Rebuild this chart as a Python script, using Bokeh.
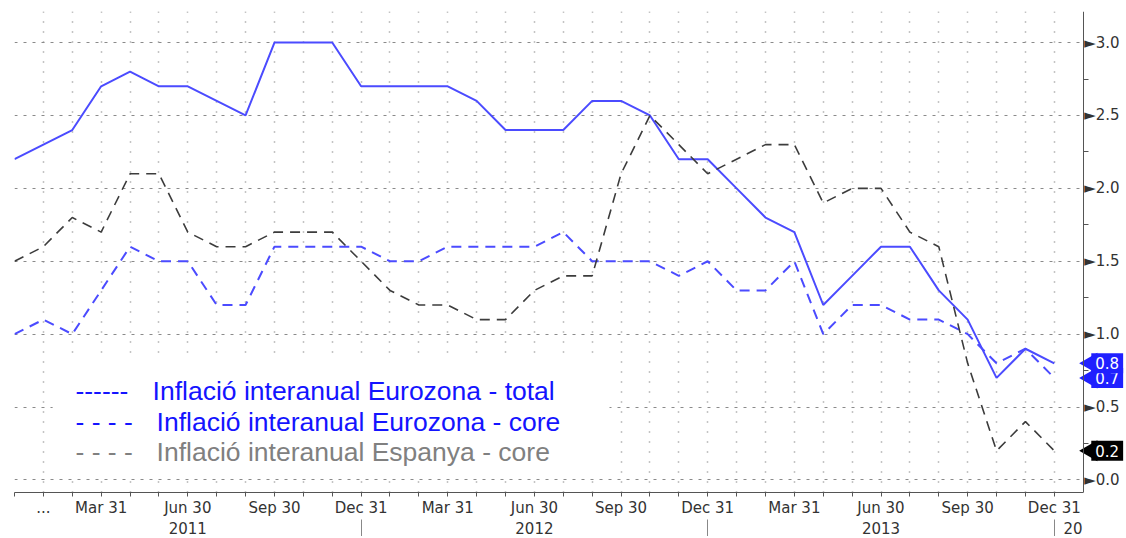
import numpy as np
from bokeh.plotting import figure
from bokeh.models import Range1d, FixedTicker, LinearAxis, Label, BoxAnnotation
from bokeh.embed import file_html
from bokeh.resources import INLINE

# Monthly values, Dec 2010 .. Dec 2013 (month-end)
total = [2.2, 2.3, 2.4, 2.7, 2.8, 2.7, 2.7, 2.6, 2.5, 3.0, 3.0, 3.0,
         2.7, 2.7, 2.7, 2.7, 2.6, 2.4, 2.4, 2.4, 2.6, 2.6, 2.5, 2.2,
         2.2, 2.0, 1.8, 1.7, 1.2, 1.4, 1.6, 1.6, 1.3, 1.1, 0.7, 0.9, 0.8]
core = [1.0, 1.1, 1.0, 1.3, 1.6, 1.5, 1.5, 1.2, 1.2, 1.6, 1.6, 1.6,
        1.6, 1.5, 1.5, 1.6, 1.6, 1.6, 1.6, 1.7, 1.5, 1.5, 1.5, 1.4,
        1.5, 1.3, 1.3, 1.5, 1.0, 1.2, 1.2, 1.1, 1.1, 1.0, 0.8, 0.9, 0.7]
spain = [1.5, 1.6, 1.8, 1.7, 2.1, 2.1, 1.7, 1.6, 1.6, 1.7, 1.7, 1.7,
         1.5, 1.3, 1.2, 1.2, 1.1, 1.1, 1.3, 1.4, 1.4, 2.1, 2.5, 2.3,
         2.1, 2.2, 2.3, 2.3, 1.9, 2.0, 2.0, 1.7, 1.6, 0.8, 0.2, 0.4, 0.2]
month_idx = list(range(len(total)))
last = month_idx[-1] + 1          # right edge of the time axis (one month after Dec 2013)

quarter_names = {3: "Mar 31", 6: "Jun 30", 9: "Sep 30", 0: "Dec 31"}
month_labels = {i: "" for i in month_idx}
month_labels[1] = "..."
for i in month_idx:
    if i > 0 and i % 3 == 0:
        month_labels[i] = quarter_names[i % 12]

year_labels = ["2011", "2012", "2013", "20"]
year_pos = [6, 18, 30, 36.65]
year_breaks = [12, 24, 36]

y_ticks = [0.0, 0.5, 1.0, 1.5, 2.0, 2.5, 3.0]
y_minor = [0.25, 0.75, 1.25, 1.75, 2.25, 2.75]

legend_marks = ["------", "- - - -", "- - - -"]
legend_texts = ["Inflació interanual Eurozona - total",
                "Inflació interanual Eurozona - core",
                "Inflació interanual Espanya - core"]
legend_colors = ["#1414ff", "#1414ff", "#808080"]

BLUE = "#4b4bff"
GRAY = "#3c3c3c"
AXIS = "#555555"
TAG_BLUE = "#2020ff"

p = figure(width=1124, height=536, x_range=Range1d(0, 38.43), y_range=Range1d(-0.086, 3.213),
           output_backend="svg", toolbar_location=None, y_axis_location="right",
           min_border_left=14, min_border_top=11, min_border_bottom=0, min_border_right=0,
           background_fill_color="white", border_fill_color="white")
p.outline_line_color = None

# x axis (months)
xa = p.xaxis[0]
xa.ticker = FixedTicker(ticks=month_idx)
xa.bounds = (0, last)
xa.major_label_overrides = month_labels
xa.major_tick_out = 4
xa.major_tick_in = 0
xa.axis_line_color = AXIS
xa.major_tick_line_color = AXIS
xa.major_label_text_font = "DejaVu Sans"
xa.major_label_text_font_size = "15px"
xa.major_label_text_color = "#333333"
xa.major_label_standoff = 2

# year axis
ya2 = LinearAxis(ticker=FixedTicker(ticks=year_pos, minor_ticks=year_breaks), bounds=(0, last),
                 major_label_overrides={k: v for k, v in zip(year_pos, year_labels)},
                 axis_line_color=None, major_tick_line_color=None,
                 major_tick_out=0, major_tick_in=0,
                 minor_tick_out=24, minor_tick_in=0, minor_tick_line_color="#888888",
                 major_label_text_font="DejaVu Sans", major_label_text_font_size="15px",
                 major_label_text_color="#333333", major_label_standoff=-22)
p.add_layout(ya2, "below")

# right y axis, fixed at the end of the time axis
ra = p.yaxis[0]
ra.fixed_location = last
ra.ticker = FixedTicker(ticks=y_ticks, minor_ticks=y_minor)
ra.major_label_overrides = {v: "\u25ba" + f"{v:.1f}" for v in y_ticks}
ra.major_tick_out = 0
ra.major_tick_in = 0
ra.minor_tick_out = 5
ra.minor_tick_in = 0
ra.axis_line_color = AXIS
ra.minor_tick_line_color = AXIS
ra.major_label_standoff = -4
ra.major_label_text_font = "DejaVu Sans"
ra.major_label_text_font_size = "15px"
ra.major_label_text_color = "#333333"

# grids
p.xgrid.ticker = FixedTicker(ticks=month_idx)
p.xgrid.grid_line_color = "#8a8a8a"
p.xgrid.grid_line_dash = "1 9"
p.xgrid.grid_line_width = 1.5
p.ygrid.ticker = FixedTicker(ticks=y_ticks)
p.ygrid.grid_line_color = "#8a8a8a"
p.ygrid.grid_line_dash = "3 6"
p.ygrid.grid_line_width = 1

# blank area right of the time axis (grid stops at the value axis)
p.add_layout(BoxAnnotation(left=last, fill_color="white", fill_alpha=1.0,
                           line_color=None, level="underlay"))

# series
p.line(month_idx, total, line_color=BLUE, line_width=2)
p.line(month_idx, core, line_color=BLUE, line_width=2, line_dash="10 7")
p.line(month_idx, spain, line_color=GRAY, line_width=1.6, line_dash="10 7")

# legend background (hides grid)
p.add_layout(BoxAnnotation(left=1.32, right=20.6, bottom=0.03, top=0.84,
                           fill_color="white", fill_alpha=1.0, line_color=None))

legend_y = [0.612, 0.399, 0.193]
mark_x = [2.11, 2.11, 2.11]
text_x = [4.78, 4.92, 4.92]
for mk, tx, col, yy, mx, txx in zip(legend_marks, legend_texts, legend_colors, legend_y, mark_x, text_x):
    p.add_layout(Label(x=mx, y=yy, text=mk, text_color=col, text_font="Liberation Sans",
                       text_font_size="26.5px", text_baseline="middle"))
    p.add_layout(Label(x=txx, y=yy, text=tx, text_color=col, text_font="Liberation Sans",
                       text_font_size="26.5px", text_baseline="middle"))

# last-value tags (pointed tag = triangle + boxed label)
tags = [(core[-1], TAG_BLUE), (total[-1], TAG_BLUE), (spain[-1], "#000000")]
tag_x = last + 0.28
p.scatter([tag_x] * len(tags), [t[0] for t in tags], marker="triangle", size=21,
          angle=np.pi / 2, fill_color=[t[1] for t in tags], line_color=None)
for val, bg in tags:
    p.add_layout(Label(x=tag_x, y=val, text=f"{val:.1f}", text_color="white",
                       text_font="DejaVu Sans", text_font_size="15px", text_baseline="middle",
                       background_fill_color=bg, background_fill_alpha=1.0, padding=4))

open("out.html", "w").write(file_html(p, INLINE))
